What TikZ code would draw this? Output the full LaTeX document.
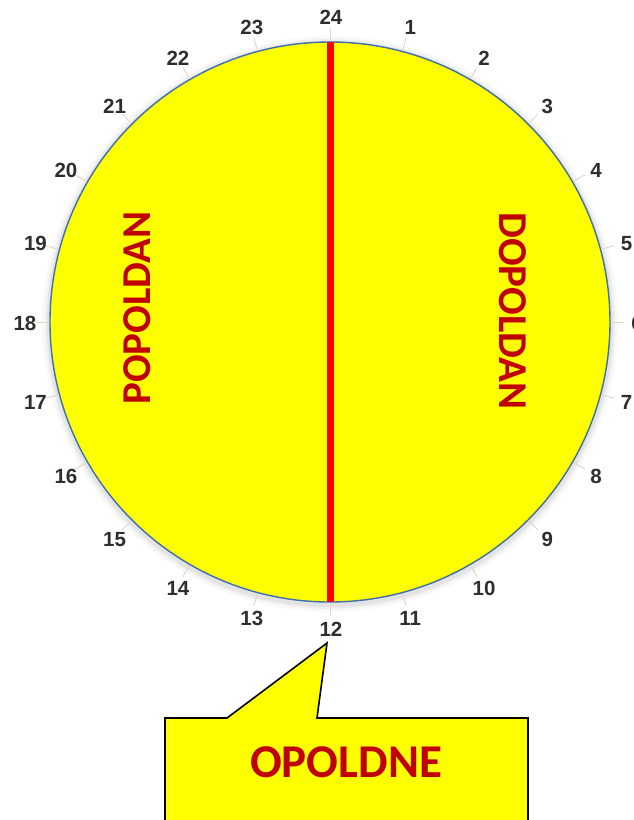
\documentclass[tikz,border=0pt]{standalone}
\usepackage{fontspec}
\setmainfont{Carlito}
\newfontfamily\numfont{Liberation Sans}
\definecolor{clockyellow}{HTML}{FFFF00}
\definecolor{rimblue}{HTML}{3F6FAA}
\definecolor{labelred}{HTML}{C00000}
\definecolor{numgrey}{HTML}{2E2E2E}
\definecolor{ticktan}{HTML}{E6D6C4}
\begin{document}
\begin{tikzpicture}[x=1pt,y=-1pt,
  hournum/.style={font=\numfont\bfseries\fontsize{20.5}{20.5}\selectfont, text=numgrey, inner sep=0pt},
  halflabel/.style={font=\bfseries\fontsize{41}{41}\selectfont, text=labelred, inner sep=0pt},
  ticklines/.style={draw=ticktan, line width=1pt},
  callout/.style={draw=black, line width=1.6pt, fill=clockyellow, line join=miter}]
\useasboundingbox (0,0) rectangle (633,820);
\begin{scope}
\clip (0,0) rectangle (633,820);
% soft shadow
\foreach \r/\o in {288/0.025,285/0.04,283/0.05}
  \fill[black, opacity=\o] (330,324) circle (\r);
% ticks
\foreach \k in {0,...,23}
  \draw[ticklines] ({330+282*sin(15*\k)},{322-282*cos(15*\k)}) -- ({330+294*sin(15*\k)},{322-294*cos(15*\k)});
% clock face
\node[circle, draw=rimblue, line width=1.4pt, fill=clockyellow, minimum size=560pt, inner sep=0pt] (clock) at (330,322) {};
\coordinate (top) at (330,42);
\coordinate (bottom) at (330,602);
\draw[red, line width=7pt] (top) -- (bottom);
% hour numbers
\foreach \k/\lab in {0/24,1/1,2/2,3/3,4/4,5/5,6/6,7/7,8/8,9/9,10/10,11/11,12/12,13/13,14/14,15/15,16/16,17/17,18/18,19/19,20/20,21/21,22/22,23/23}
  \node[hournum] (h\k) at ({331+306*sin(15*\k)},{323-306*cos(15*\k)}) {\lab};
% half labels
\node[halflabel, rotate=90] (pm) at (137,308) {POPOLDAN};
\node[halflabel, rotate=-90] (am) at (513,311) {DOPOLDAN};
% callout
\draw[callout] (165,830) -- (165,718) -- (227,718) -- (327,643) -- (317,718) -- (528,718) -- (528,830);
\node[font=\bfseries\fontsize{47}{47}\selectfont, text=labelred, inner sep=0pt] (noon) at (346,762) {OPOLDNE};
\end{scope}
\end{tikzpicture}
\end{document}
